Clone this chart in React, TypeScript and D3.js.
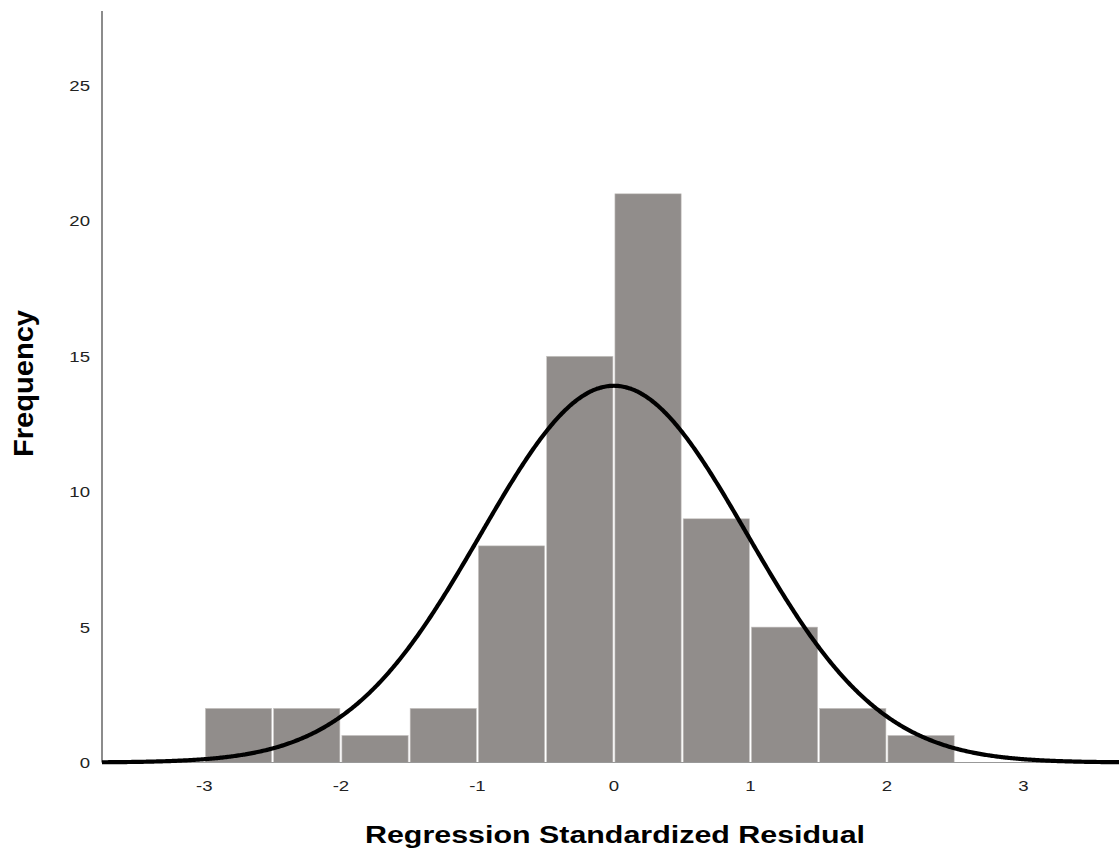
import React, { useEffect, useRef } from "react";
import * as d3 from "d3";

// histogram bins (lower edge, upper edge) and counts
const binStarts = [-3, -2.5, -2, -1.5, -1, -0.5, 0, 0.5, 1, 1.5, 2];
const binWidth = 0.5;
const counts = [2, 2, 1, 2, 8, 15, 21, 9, 5, 2, 1];
const xTicks = [-3, -2, -1, 0, 1, 2, 3];
const yTicks = [0, 5, 10, 15, 20, 25];

// fitted normal curve parameters
const mean = 0.0;
const stdDev = 0.975;
const nTotal = 68;

const W = 1119;
const H = 851;
const FONT = "Liberation Sans, Arial, sans-serif";

export default function App() {
  const ref = useRef<SVGSVGElement>(null);

  useEffect(() => {
    const svg = d3.select(ref.current);
    svg.selectAll("*").remove();

    const left = 102;
    const bottom = 762.5;
    const top = 11;

    const x = d3.scaleLinear().domain([-3.75, 3.7]).range([left, 1119]);
    const y = d3.scaleLinear().domain([0, 27.75]).range([bottom, top]);

    const g = svg.append("g");

    // bars
    g.selectAll("rect.bar")
      .data(counts)
      .enter()
      .append("rect")
      .attr("class", "bar")
      .attr("x", (d, i) => x(binStarts[i]) + 1)
      .attr("y", d => y(d))
      .attr("width", (d, i) => x(binStarts[i] + binWidth) - x(binStarts[i]) - 2)
      .attr("height", d => y(0) - y(d))
      .style("fill", "#918d8b")
      .style("stroke", "#c9c6c4")
      .style("stroke-width", 0.6);

    // axes lines
    g.append("line")
      .attr("x1", left).attr("x2", left)
      .attr("y1", top).attr("y2", bottom)
      .style("stroke", "#666").style("stroke-width", 1.5);
    g.append("line")
      .attr("x1", left).attr("x2", W)
      .attr("y1", bottom).attr("y2", bottom)
      .style("stroke", "#999").style("stroke-width", 1.2);

    // normal curve
    const dens = (v: number) =>
      (nTotal * binWidth) / (stdDev * Math.sqrt(2 * Math.PI)) *
      Math.exp(-0.5 * Math.pow((v - mean) / stdDev, 2));
    const pts = d3.range(-3.75, 3.71, 0.01).map(v => [v, dens(v)] as [number, number]);
    const line = d3.line<[number, number]>()
      .x(d => x(d[0]))
      .y(d => y(d[1]))
      .curve(d3.curveBasis);
    g.append("path")
      .attr("d", line(pts))
      .style("fill", "none")
      .style("stroke", "#000")
      .style("stroke-width", 4.2);

    // tick labels (the original is stretched a bit horizontally)
    g.selectAll("text.xt")
      .data(xTicks)
      .enter()
      .append("text")
      .attr("transform", d => `translate(${x(d)},791) scale(1.2,1)`)
      .attr("text-anchor", "middle")
      .style("font-family", FONT)
      .style("font-size", "15.5px")
      .style("fill", "#222")
      .text(d => d);

    g.selectAll("text.yt")
      .data(yTicks)
      .enter()
      .append("text")
      .attr("transform", d => `translate(90,${y(d) + 5.5}) scale(1.2,1)`)
      .attr("text-anchor", "end")
      .style("font-family", FONT)
      .style("font-size", "15.5px")
      .style("fill", "#222")
      .text(d => d);

    // axis titles
    g.append("text")
      .attr("x", 615)
      .attr("y", 843)
      .attr("text-anchor", "middle")
      .attr("textLength", 500)
      .attr("lengthAdjust", "spacingAndGlyphs")
      .style("font-family", FONT)
      .style("font-size", "23px")
      .style("font-weight", "bold")
      .style("fill", "#000")
      .text("Regression Standardized Residual");

    g.append("text")
      .attr("transform", "translate(33,383.5) scale(1.2,1) rotate(-90)")
      .attr("text-anchor", "middle")
      .attr("textLength", 147)
      .attr("lengthAdjust", "spacingAndGlyphs")
      .style("font-family", FONT)
      .style("font-size", "23px")
      .style("font-weight", "bold")
      .style("fill", "#000")
      .text("Frequency");
  }, []);

  return (
    <svg
      ref={ref}
      width={W}
      height={H}
      style={{ position: "absolute", left: 0, top: 0, background: "#fff" }}
    />
  );
}
